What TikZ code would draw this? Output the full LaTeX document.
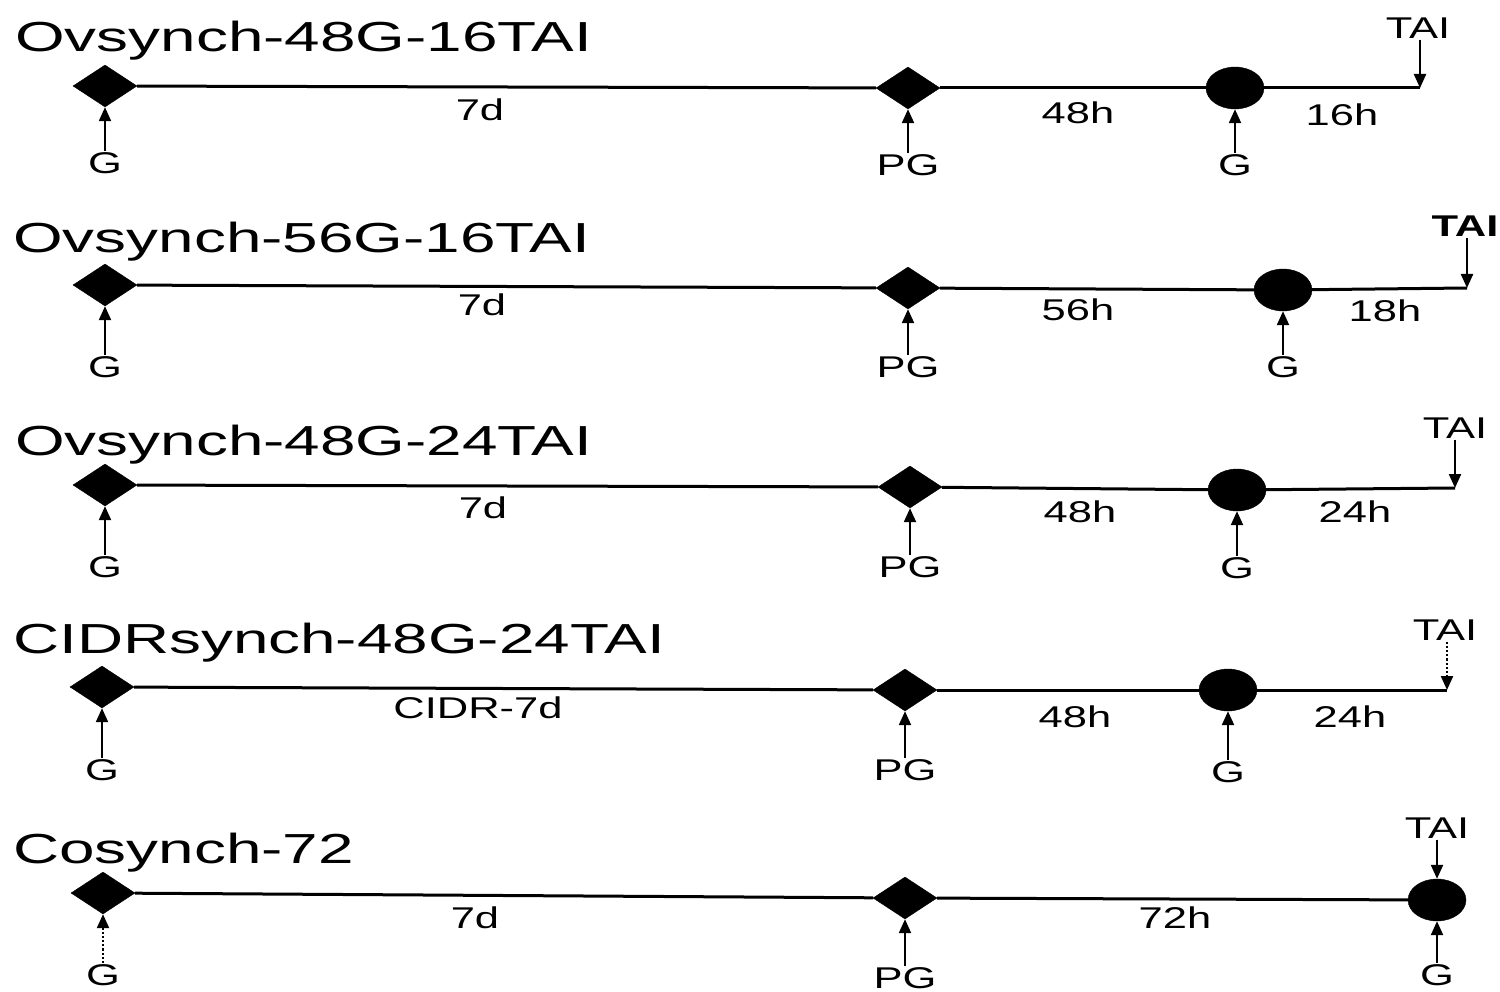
\documentclass[tikz,border=0pt]{standalone}
\usepackage{fontspec}
\usepackage{graphicx}
\setmainfont{Liberation Sans}
\usetikzlibrary{shapes.geometric,arrows.meta}
\newcommand\wl[1]{\scalebox{1.45}[1]{#1}}
\newcommand\wt[1]{\scalebox{1.52}[1]{#1}}
\begin{document}
\begin{tikzpicture}[x=1pt,y=-1pt,
  tl/.style={line width=3pt},
  ar/.style={line width=2.2pt,-{Triangle[length=14pt,width=12pt]}},
  dar/.style={ar,dotted},
  lab/.style={font=\fontsize{30}{34}\selectfont,inner sep=1pt},
  ttl/.style={font=\fontsize{42}{48}\selectfont,inner sep=0pt,anchor=base west},
  dia/.style={diamond,fill=black,draw=black,inner sep=0pt,minimum width=64pt,minimum height=42pt},
  dot/.style={ellipse,fill=black,draw=black,inner sep=0pt,minimum width=58pt,minimum height=42pt}]
\useasboundingbox[fill=white] (0,0) rectangle (1500,992);

% ---------- Row 1 ----------
\node[ttl] (t1) at (15,52) {\wt{Ovsynch-48G-16TAI}};
\node[dia] (d11) at (105,86) {};
\node[dia] (d12) at (908,88) {};
\node[dot] (c13) at (1235,88) {};
\coordinate (e14) at (1420,88);
\draw[tl] (d11) -- (d12);
\draw[tl] (d12) -- (c13);
\draw[tl] (c13) -- (e14);
\node[lab] (g11) at (105,163) {\wl{G}};
\node[lab] (p12) at (908,165) {\wl{PG}};
\node[lab] (g13) at (1235,165) {\wl{G}};
\node[lab] (l11) at (480,110) {\wl{7d}};
\node[lab] (l12) at (1078,113) {\wl{48h}};
\node[lab] (l13) at (1342,115) {\wl{16h}};
\node[lab] (a1) at (1418,28) {\wl{TAI}};
\draw[ar] (g11) -- (d11);
\draw[ar] (p12) -- (d12);
\draw[ar] (g13) -- (c13);
\draw[ar] (a1.south -| e14) -- (e14);

% ---------- Row 2 ----------
\node[ttl] (t2) at (13,253) {\wt{Ovsynch-56G-16TAI}};
\node[dia] (d21) at (105,285) {};
\node[dia] (d22) at (908,288) {};
\node[dot] (c23) at (1283,290) {};
\coordinate (e24) at (1467,288);
\draw[tl] (d21) -- (d22);
\draw[tl] (d22) -- (c23);
\draw[tl] (c23) -- (e24);
\node[lab] (g21) at (105,367) {\wl{G}};
\node[lab] (p22) at (908,367) {\wl{PG}};
\node[lab] (g23) at (1283,367) {\wl{G}};
\node[lab] (l21) at (482,305) {\wl{7d}};
\node[lab] (l22) at (1078,310) {\wl{56h}};
\node[lab] (l23) at (1385,311) {\wl{18h}};
\node[lab,font=\fontsize{30}{34}\selectfont\bfseries] (a2) at (1465,226) {\wl{TAI}};
\draw[ar] (g21) -- (d21);
\draw[ar] (p22) -- (d22);
\draw[ar] (g23) -- (c23);
\draw[ar] (a2.south -| e24) -- (e24);

% ---------- Row 3 ----------
\node[ttl] (t3) at (15,455) {\wt{Ovsynch-48G-24TAI}};
\node[dia] (d31) at (105,485) {};
\node[dia] (d32) at (910,487) {};
\node[dot] (c33) at (1237,490) {};
\coordinate (e34) at (1455,488);
\draw[tl] (d31) -- (d32);
\draw[tl] (d32) -- (c33);
\draw[tl] (c33) -- (e34);
\node[lab] (g31) at (105,567) {\wl{G}};
\node[lab] (p32) at (910,567) {\wl{PG}};
\node[lab] (g33) at (1237,568) {\wl{G}};
\node[lab] (l31) at (483,508) {\wl{7d}};
\node[lab] (l32) at (1080,512) {\wl{48h}};
\node[lab] (l33) at (1355,512) {\wl{24h}};
\node[lab] (a3) at (1455,428) {\wl{TAI}};
\draw[ar] (g31) -- (d31);
\draw[ar] (p32) -- (d32);
\draw[ar] (g33) -- (c33);
\draw[ar] (a3.south -| e34) -- (e34);

% ---------- Row 4 ----------
\node[ttl] (t4) at (13,653) {\wt{CIDRsynch-48G-24TAI}};
\node[dia] (d41) at (102,687) {};
\node[dia] (d42) at (905,690) {};
\node[dot] (c43) at (1228,690) {};
\coordinate (e44) at (1447,690);
\draw[tl] (d41) -- (d42);
\draw[tl] (d42) -- (c43);
\draw[tl] (c43) -- (e44);
\node[lab] (g41) at (102,770) {\wl{G}};
\node[lab] (p42) at (905,770) {\wl{PG}};
\node[lab] (g43) at (1228,772) {\wl{G}};
\node[lab] (l41) at (478,708) {\wl{CIDR-7d}};
\node[lab] (l42) at (1075,717) {\wl{48h}};
\node[lab] (l43) at (1350,717) {\wl{24h}};
\node[lab] (a4) at (1445,630) {\wl{TAI}};
\draw[ar] (g41) -- (d41);
\draw[ar] (p42) -- (d42);
\draw[ar] (g43) -- (c43);
\draw[dar] (a4.south -| e44) -- (e44);

% ---------- Row 5 ----------
\node[ttl] (t5) at (13,863) {\wt{Cosynch-72}};
\node[dia] (d51) at (103,893) {};
\node[dia] (d52) at (905,898) {};
\node[dot] (c53) at (1437,900) {};
\draw[tl] (d51) -- (d52);
\draw[tl] (d52) -- (c53);
\node[lab] (g51) at (103,975) {\wl{G}};
\node[lab] (p52) at (905,978) {\wl{PG}};
\node[lab] (g53) at (1437,975) {\wl{G}};
\node[lab] (l51) at (475,918) {\wl{7d}};
\node[lab] (l52) at (1175,918) {\wl{72h}};
\node[lab] (a5) at (1437,828) {\wl{TAI}};
\draw[dar] (g51) -- (d51);
\draw[ar] (p52) -- (d52);
\draw[ar] (g53) -- (c53);
\draw[ar] (a5) -- (c53);
\end{tikzpicture}
\end{document}
